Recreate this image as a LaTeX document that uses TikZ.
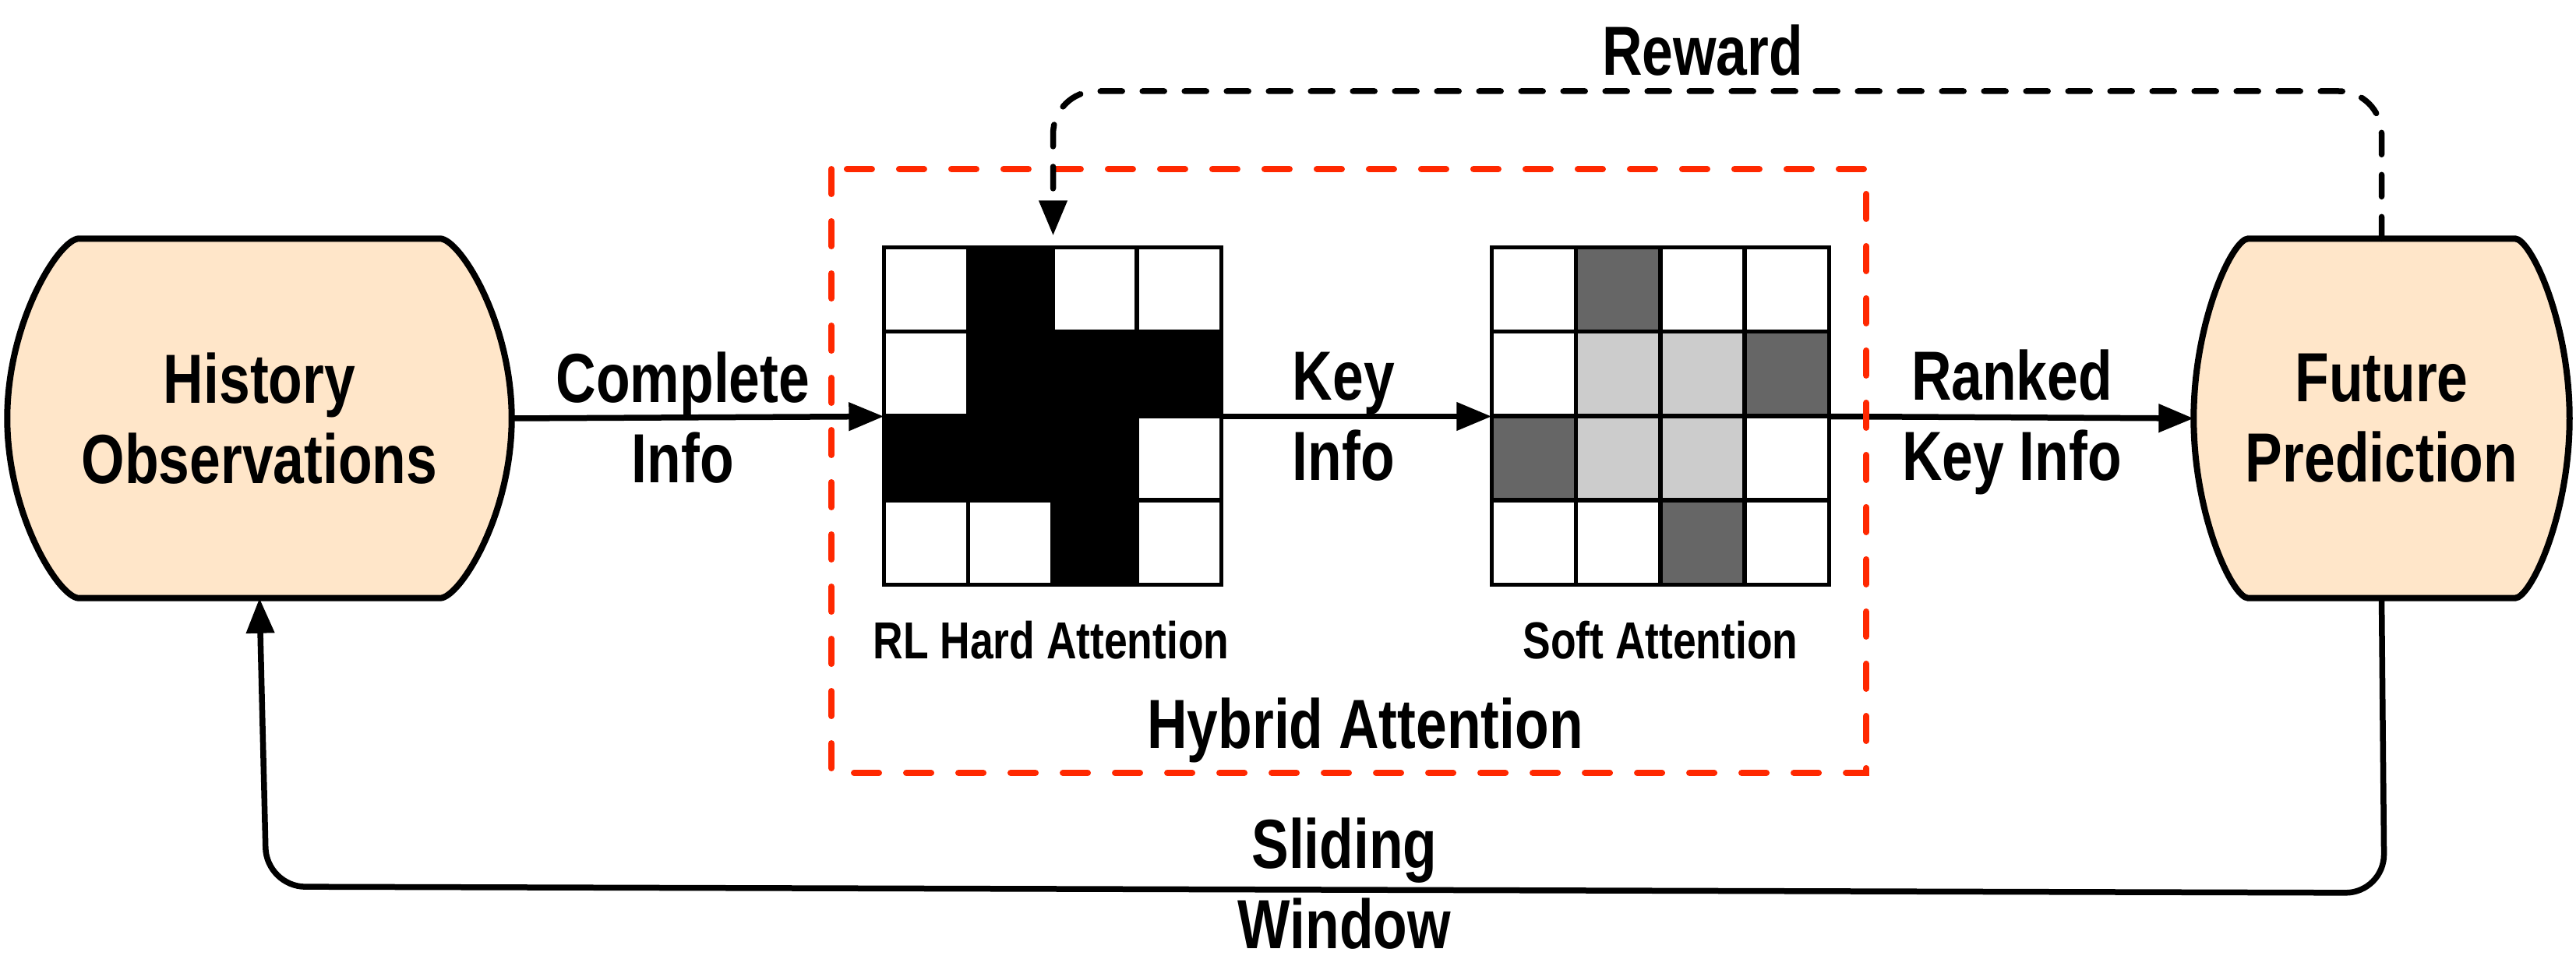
\documentclass[tikz,border=0pt]{standalone}
\usepackage{fontspec}
\setmainfont{Liberation Sans}[FakeStretch=0.8]
\usetikzlibrary{arrows.meta,backgrounds,positioning}
\definecolor{peach}{RGB}{255,230,201}
\definecolor{hybridred}{RGB}{255,40,0}
\definecolor{darkcell}{RGB}{102,102,102}
\definecolor{lightcell}{RGB}{204,204,204}
\newcommand{\bigfont}{\fontsize{25.4pt}{29.3pt}\selectfont\bfseries}
\newcommand{\capfont}{\fontsize{19pt}{22pt}\selectfont\bfseries}
% outline of a box with bulging sides: node, inset of the flat edge, control offset
\newcommand{\barrel}[3]{%
  \draw[boxline] ([xshift=#2cm]#1.north west) -- ([xshift=-#2cm]#1.north east)
    .. controls ([xshift=-#3cm]#1.north east) and ([yshift=1.25cm]#1.east) .. (#1.east)
    .. controls ([yshift=-1.25cm]#1.east) and ([xshift=-#3cm]#1.south east) .. ([xshift=-#2cm]#1.south east)
    -- ([xshift=#2cm]#1.south west)
    .. controls ([xshift=#3cm]#1.south west) and ([yshift=-1.25cm]#1.west) .. (#1.west)
    .. controls ([yshift=1.25cm]#1.west) and ([xshift=#3cm]#1.north west) .. cycle;}
\begin{document}
\begin{tikzpicture}[
    boxline/.style={line width=0.08cm, fill=peach},
    box/.style={minimum height=4.6cm, inner sep=0pt, align=center, font=\bigfont},
    grid4/.style={minimum size=4.33cm, inner sep=0pt},
    lbl/.style={inner sep=0pt, align=center, font=\bigfont},
    caption/.style={inner sep=0pt, anchor=base, font=\capfont},
    cellline/.style={line width=0.055cm, line cap=rect},
    flow/.style={line width=0.075cm, -{Triangle[length=0.45cm,width=0.35cm]}},
    reward/.style={flow, dash pattern=on 0.28cm off 0.26cm, line cap=round, rounded corners=0.55cm},
    hybrid/.style={draw=hybridred, line width=0.08cm, dash pattern=on 0.32cm off 0.35cm, line cap=round}
  ]
  \useasboundingbox (0,0) rectangle (33.06,-12.53);

  \node[box, minimum width=6.46cm] (hist) at ( 3.33, -5.37) {History\\Observations};
  \node[box, minimum width=4.81cm] (pred) at (30.565,-5.37) {Future\\Prediction};
  \begin{scope}[on background layer]
    \barrel{hist}{0.92}{0.67}
    \barrel{pred}{0.70}{0.50}
  \end{scope}

  \node[grid4] (hard) at (13.515,-5.345) {};
  \node[grid4] (soft) at (21.315,-5.345) {};

  \begin{scope}[shift={(hard.north west)}, x=1.0825cm, y=-1.0825cm]
    \foreach \r/\c in {1/2, 2/2, 2/3, 2/4, 3/1, 3/2, 3/3, 4/3}
      \fill (\c-1,\r-1) rectangle (\c,\r);
    \foreach \i in {0,...,4} {
      \draw[cellline] (\i,0) -- (\i,4);
      \draw[cellline] (0,\i) -- (4,\i);
    }
  \end{scope}
  \begin{scope}[shift={(soft.north west)}, x=1.0825cm, y=-1.0825cm]
    \foreach \r/\c/\col in {1/2/darkcell, 2/2/lightcell, 2/3/lightcell, 2/4/darkcell,
                            3/1/darkcell, 3/2/lightcell, 3/3/lightcell, 4/3/darkcell}
      \fill[\col] (\c-1,\r-1) rectangle (\c,\r);
    \foreach \i in {0,...,4} {
      \draw[cellline] (\i,0) -- (\i,4);
      \draw[cellline] (0,\i) -- (4,\i);
    }
  \end{scope}

  \node[caption] (hardcap) at (13.49,-8.45) {RL Hard Attention};
  \node[caption] (softcap) at (21.31,-8.45) {Soft Attention};

  \draw[flow] (hist.east) -- (hard.west) node[lbl, pos=0.46] {Complete\\Info};
  \draw[flow] (hard.east) -- (soft.west) node[lbl, pos=0.45] {Key\\Info};
  \draw[flow] (soft.east) -- (pred.west) node[lbl, pos=0.5, yshift=-0.06cm] {Ranked\\Key Info};

  \draw[hybrid] (10.67,-2.17) rectangle (23.95,-9.92);
  \node[lbl, anchor=base] (hyblbl) at (17.52,-9.60) {Hybrid Attention};

  \coordinate (rtop) at (13.515,-1.17);
  \draw[reward, shorten >=0.15cm] (pred.north) |- (rtop) -- (hard.north);
  \node[lbl, anchor=base] (rewardlbl) at (21.85,-0.97) {Reward};

  \coordinate (sr) at (30.60,-11.46);
  \coordinate (sl) at ( 3.42,-11.38);
  \draw[flow, rounded corners=0.5cm] (pred.south) -- (sr) -- (sl)
    node[lbl, pos=0.491, yshift=0.08cm] {Sliding\\Window} -- (hist.south);
\end{tikzpicture}
\end{document}
